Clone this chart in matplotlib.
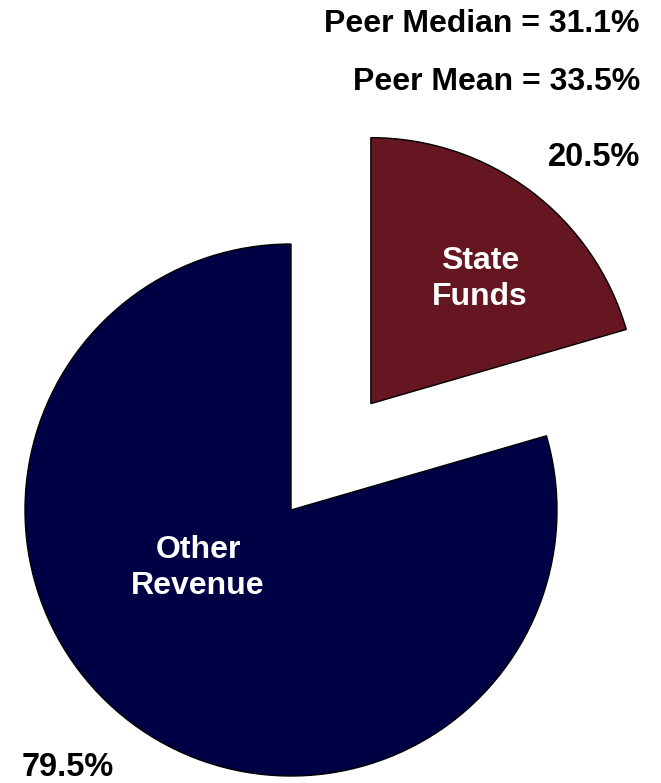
import matplotlib.pyplot as plt

# data
labels = ["State\nFunds", "Other\nRevenue"]
shares = [20.5, 79.5]
pct_labels = ["20.5%", "79.5%"]
peer_median = 31.1
peer_mean = 33.5
colors = ["#651620", "#000045"]

plt.rcParams['font.family'] = ['Liberation Sans', 'DejaVu Sans']

W, H = 661, 783
fig = plt.figure(figsize=(W / 100, H / 100), dpi=100)
ax = fig.add_axes([0, 0, 1, 1])

# pie in pixel-like coords (y flipped)
cx, cy, r = 291, H - 510, 266
wedges, _ = ax.pie(shares, colors=colors, startangle=90, counterclock=False,
                   explode=[0.5 * r, 0], center=(cx, cy), radius=r, frame=True,
                   wedgeprops=dict(edgecolor='black', linewidth=1.0))
ax.set_xlim(0, W)
ax.set_ylim(0, H)
ax.set_aspect('equal')
ax.axis('off')

# wedge labels
ax.text(480, H - 279, labels[0], color='white', fontsize=23, fontweight='bold',
        ha='center', va='center', linespacing=1.27)
ax.text(198, H - 568, labels[1], color='white', fontsize=23, fontweight='bold',
        ha='center', va='center', linespacing=1.27)

# percentages
ax.text(640, H - 157, pct_labels[0], fontsize=23.5, fontweight='bold',
        ha='right', va='center')
ax.text(22, H - 767, pct_labels[1], fontsize=23.5, fontweight='bold',
        ha='left', va='center')

# peer stats
ax.text(640, H - 24, f"Peer Median = {peer_median:.1f}%", fontsize=23,
        fontweight='bold', ha='right', va='center')
ax.text(640, H - 82, f"Peer Mean = {peer_mean:.1f}%", fontsize=23,
        fontweight='bold', ha='right', va='center')

fig.savefig("out.png", dpi=100)
